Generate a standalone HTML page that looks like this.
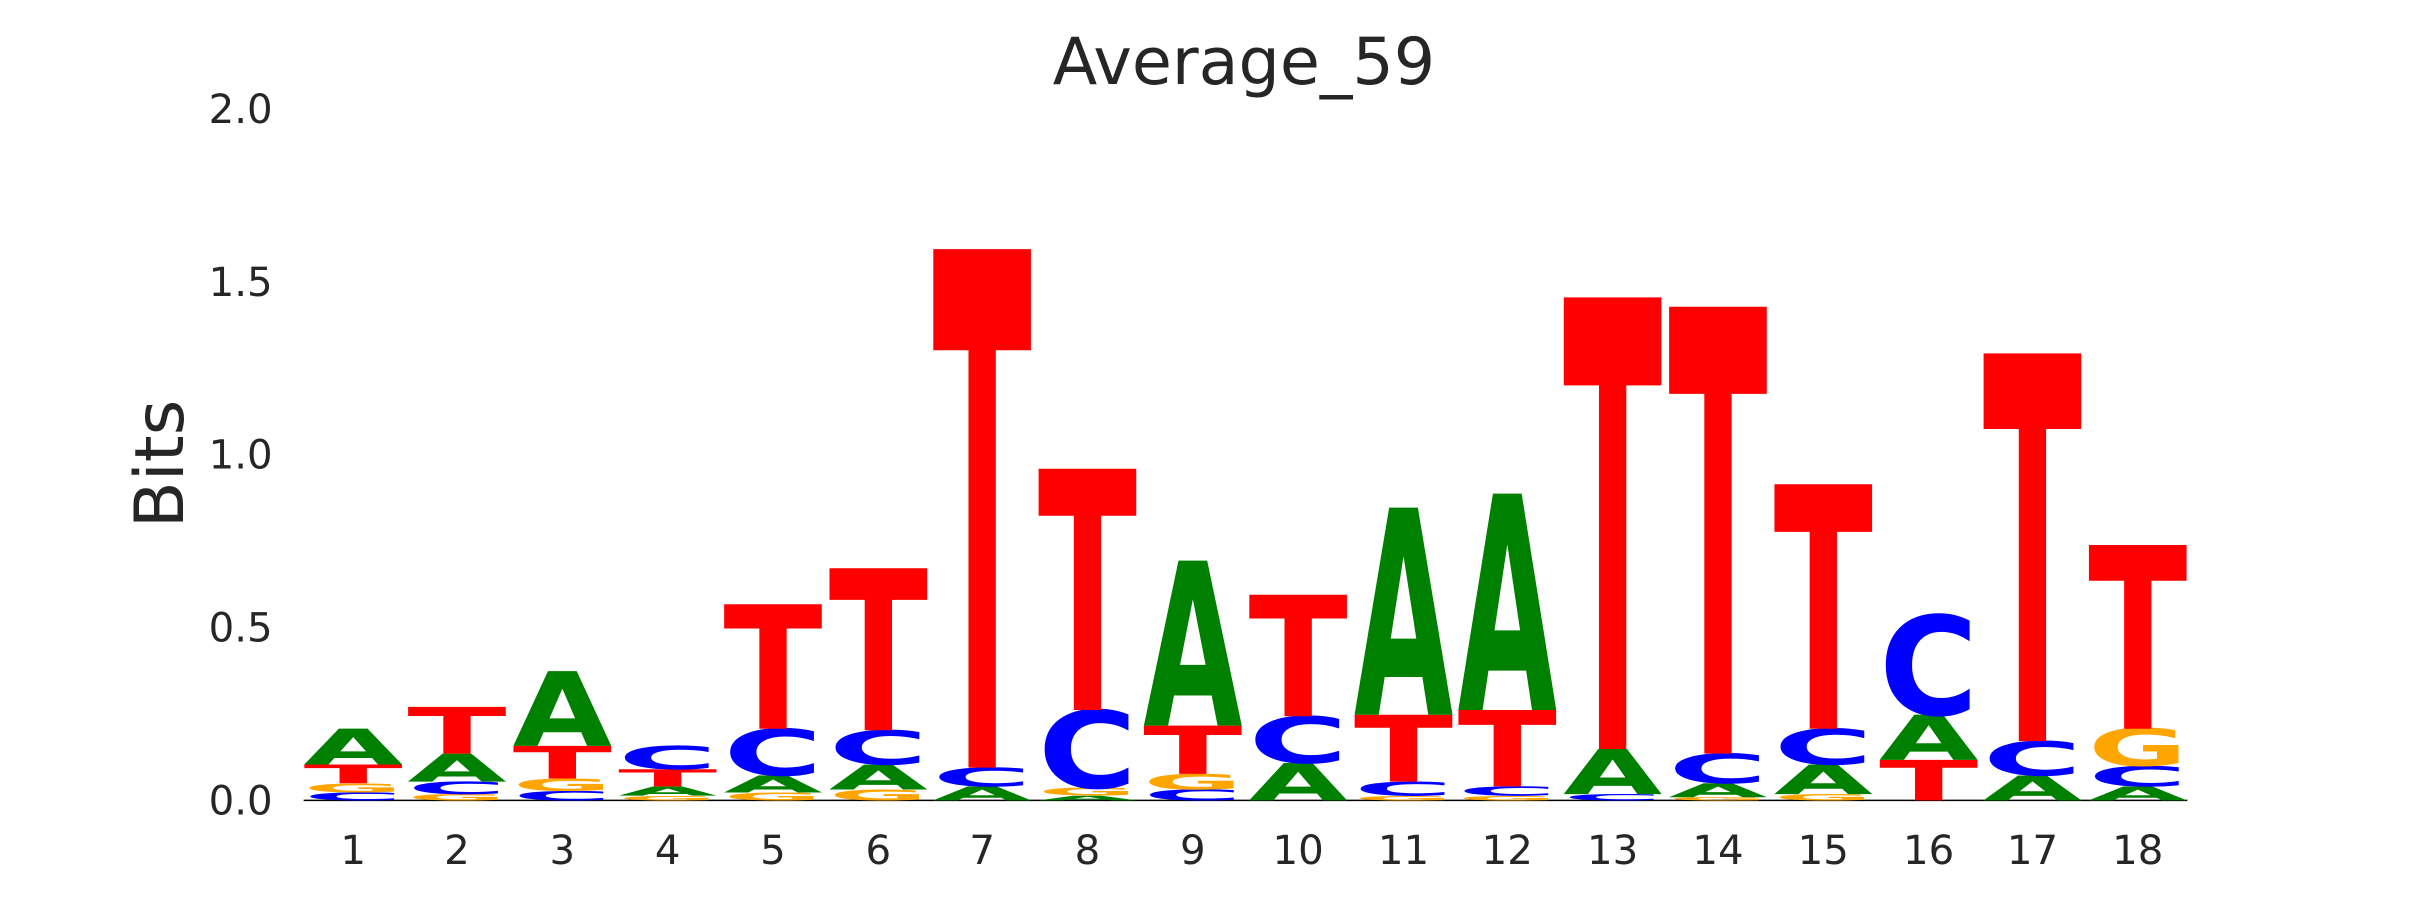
<!DOCTYPE html>
<html><head><meta charset="utf-8"><style>
html,body{margin:0;padding:0;background:#fff;}
svg{display:block;}
.L{font-family:"DejaVu Sans","Liberation Sans",sans-serif;font-weight:bold;font-size:100px;}
.A{fill:#008000}.C{fill:#0000ff}.G{fill:#ffa500}.T{fill:#ff0000}
.tk{font-family:"DejaVu Sans","Liberation Sans",sans-serif;font-size:26px;fill:#262626;}
</style></head><body>
<svg width="2430" height="900" viewBox="0 0 1560 578" preserveAspectRatio="none" xmlns="http://www.w3.org/2000/svg">
<rect width="1560" height="578" fill="#fff"/>
<g transform="scale(0.9945,1)">
<text x="803" y="54" text-anchor="middle" class="tk" style="font-size:42px">Average_59</text>
<text transform="translate(118,298) rotate(-90)" text-anchor="middle" class="tk" style="font-size:44px">Bits</text>
<g text-anchor="end">
<text class="tk" x="176" y="523">0.0</text>
<text class="tk" x="176" y="412">0.5</text>
<text class="tk" x="176" y="301">1.0</text>
<text class="tk" x="176" y="190">1.5</text>
<text class="tk" x="176" y="79">2.0</text>
</g>
<g text-anchor="middle">
<text class="tk" x="228" y="555">1</text><text class="tk" x="295" y="555">2</text><text class="tk" x="363" y="555">3</text><text class="tk" x="431" y="555">4</text><text class="tk" x="499" y="555">5</text><text class="tk" x="567" y="555">6</text><text class="tk" x="634" y="555">7</text><text class="tk" x="702" y="555">8</text><text class="tk" x="770" y="555">9</text><text class="tk" x="838" y="555">10</text><text class="tk" x="906" y="555">11</text><text class="tk" x="973" y="555">12</text><text class="tk" x="1041" y="555">13</text><text class="tk" x="1109" y="555">14</text><text class="tk" x="1177" y="555">15</text><text class="tk" x="1245" y="555">16</text><text class="tk" x="1312" y="555">17</text><text class="tk" x="1380" y="555">18</text>
</g>
<g transform="translate(0,-2)">
<line x1="196" y1="516" x2="1412" y2="516" stroke="#000" stroke-width="1"/>
<g transform="translate(196,516) scale(0.64,0.069)"><text class="L C" textLength="100" lengthAdjust="spacingAndGlyphs">C</text></g>
<g transform="translate(196,511) scale(0.64,0.082)"><text class="L G" textLength="100" lengthAdjust="spacingAndGlyphs">G</text></g>
<g transform="translate(196,505) scale(0.64,0.165)"><text class="L T" textLength="100" lengthAdjust="spacingAndGlyphs">T</text></g>
<g transform="translate(196,493) scale(0.64,0.316)"><text class="L A" textLength="100" lengthAdjust="spacingAndGlyphs">A</text></g>
<g transform="translate(263,516) scale(0.64,0.055)"><text class="L G" textLength="100" lengthAdjust="spacingAndGlyphs">G</text></g>
<g transform="translate(263,512) scale(0.64,0.110)"><text class="L C" textLength="100" lengthAdjust="spacingAndGlyphs">C</text></g>
<g transform="translate(263,504) scale(0.64,0.247)"><text class="L A" textLength="100" lengthAdjust="spacingAndGlyphs">A</text></g>
<g transform="translate(263,486) scale(0.64,0.412)"><text class="L T" textLength="100" lengthAdjust="spacingAndGlyphs">T</text></g>
<g transform="translate(331,516) scale(0.64,0.082)"><text class="L C" textLength="100" lengthAdjust="spacingAndGlyphs">C</text></g>
<g transform="translate(331,510) scale(0.64,0.110)"><text class="L G" textLength="100" lengthAdjust="spacingAndGlyphs">G</text></g>
<g transform="translate(331,502) scale(0.64,0.288)"><text class="L T" textLength="100" lengthAdjust="spacingAndGlyphs">T</text></g>
<g transform="translate(331,481) scale(0.64,0.658)"><text class="L A" textLength="100" lengthAdjust="spacingAndGlyphs">A</text></g>
<g transform="translate(399,516) scale(0.64,0.041)"><text class="L G" textLength="100" lengthAdjust="spacingAndGlyphs">G</text></g>
<g transform="translate(399,513) scale(0.64,0.082)"><text class="L A" textLength="100" lengthAdjust="spacingAndGlyphs">A</text></g>
<g transform="translate(399,507) scale(0.64,0.151)"><text class="L T" textLength="100" lengthAdjust="spacingAndGlyphs">T</text></g>
<g transform="translate(399,496) scale(0.64,0.206)"><text class="L C" textLength="100" lengthAdjust="spacingAndGlyphs">C</text></g>
<g transform="translate(467,516) scale(0.64,0.069)"><text class="L G" textLength="100" lengthAdjust="spacingAndGlyphs">G</text></g>
<g transform="translate(467,511) scale(0.64,0.151)"><text class="L A" textLength="100" lengthAdjust="spacingAndGlyphs">A</text></g>
<g transform="translate(467,500) scale(0.64,0.412)"><text class="L C" textLength="100" lengthAdjust="spacingAndGlyphs">C</text></g>
<g transform="translate(467,470) scale(0.64,1.097)"><text class="L T" textLength="100" lengthAdjust="spacingAndGlyphs">T</text></g>
<g transform="translate(535,516) scale(0.64,0.096)"><text class="L G" textLength="100" lengthAdjust="spacingAndGlyphs">G</text></g>
<g transform="translate(535,509) scale(0.64,0.219)"><text class="L A" textLength="100" lengthAdjust="spacingAndGlyphs">A</text></g>
<g transform="translate(535,493) scale(0.64,0.302)"><text class="L C" textLength="100" lengthAdjust="spacingAndGlyphs">C</text></g>
<g transform="translate(535,471) scale(0.64,1.427)"><text class="L T" textLength="100" lengthAdjust="spacingAndGlyphs">T</text></g>
<g transform="translate(602,516) scale(0.64,0.123)"><text class="L A" textLength="100" lengthAdjust="spacingAndGlyphs">A</text></g>
<g transform="translate(602,507) scale(0.64,0.165)"><text class="L C" textLength="100" lengthAdjust="spacingAndGlyphs">C</text></g>
<g transform="translate(602,495) scale(0.64,4.568)"><text class="L T" textLength="100" lengthAdjust="spacingAndGlyphs">T</text></g>
<g transform="translate(670,516) scale(0.64,0.041)"><text class="L A" textLength="100" lengthAdjust="spacingAndGlyphs">A</text></g>
<g transform="translate(670,513) scale(0.64,0.069)"><text class="L G" textLength="100" lengthAdjust="spacingAndGlyphs">G</text></g>
<g transform="translate(670,508) scale(0.64,0.686)"><text class="L C" textLength="100" lengthAdjust="spacingAndGlyphs">C</text></g>
<g transform="translate(670,458) scale(0.64,2.126)"><text class="L T" textLength="100" lengthAdjust="spacingAndGlyphs">T</text></g>
<g transform="translate(738,516) scale(0.64,0.096)"><text class="L C" textLength="100" lengthAdjust="spacingAndGlyphs">C</text></g>
<g transform="translate(738,509) scale(0.64,0.137)"><text class="L G" textLength="100" lengthAdjust="spacingAndGlyphs">G</text></g>
<g transform="translate(738,499) scale(0.64,0.425)"><text class="L T" textLength="100" lengthAdjust="spacingAndGlyphs">T</text></g>
<g transform="translate(738,468) scale(0.64,1.454)"><text class="L A" textLength="100" lengthAdjust="spacingAndGlyphs">A</text></g>
<g transform="translate(806,516) scale(0.64,0.329)"><text class="L A" textLength="100" lengthAdjust="spacingAndGlyphs">A</text></g>
<g transform="translate(806,492) scale(0.64,0.412)"><text class="L C" textLength="100" lengthAdjust="spacingAndGlyphs">C</text></g>
<g transform="translate(806,462) scale(0.64,1.070)"><text class="L T" textLength="100" lengthAdjust="spacingAndGlyphs">T</text></g>
<g transform="translate(874,516) scale(0.64,0.041)"><text class="L G" textLength="100" lengthAdjust="spacingAndGlyphs">G</text></g>
<g transform="translate(874,513) scale(0.64,0.123)"><text class="L C" textLength="100" lengthAdjust="spacingAndGlyphs">C</text></g>
<g transform="translate(874,504) scale(0.64,0.590)"><text class="L T" textLength="100" lengthAdjust="spacingAndGlyphs">T</text></g>
<g transform="translate(874,461) scale(0.64,1.824)"><text class="L A" textLength="100" lengthAdjust="spacingAndGlyphs">A</text></g>
<g transform="translate(941,516) scale(0.64,0.041)"><text class="L G" textLength="100" lengthAdjust="spacingAndGlyphs">G</text></g>
<g transform="translate(941,513) scale(0.64,0.082)"><text class="L C" textLength="100" lengthAdjust="spacingAndGlyphs">C</text></g>
<g transform="translate(941,507) scale(0.64,0.672)"><text class="L T" textLength="100" lengthAdjust="spacingAndGlyphs">T</text></g>
<g transform="translate(941,458) scale(0.64,1.907)"><text class="L A" textLength="100" lengthAdjust="spacingAndGlyphs">A</text></g>
<g transform="translate(1009,516) scale(0.64,0.055)"><text class="L C" textLength="100" lengthAdjust="spacingAndGlyphs">C</text></g>
<g transform="translate(1009,512) scale(0.64,0.398)"><text class="L A" textLength="100" lengthAdjust="spacingAndGlyphs">A</text></g>
<g transform="translate(1009,483) scale(0.64,3.978)"><text class="L T" textLength="100" lengthAdjust="spacingAndGlyphs">T</text></g>
<g transform="translate(1077,516) scale(0.64,0.027)"><text class="L G" textLength="100" lengthAdjust="spacingAndGlyphs">G</text></g>
<g transform="translate(1077,514) scale(0.64,0.123)"><text class="L A" textLength="100" lengthAdjust="spacingAndGlyphs">A</text></g>
<g transform="translate(1077,505) scale(0.64,0.261)"><text class="L C" textLength="100" lengthAdjust="spacingAndGlyphs">C</text></g>
<g transform="translate(1077,486) scale(0.64,3.937)"><text class="L T" textLength="100" lengthAdjust="spacingAndGlyphs">T</text></g>
<g transform="translate(1145,516) scale(0.64,0.055)"><text class="L G" textLength="100" lengthAdjust="spacingAndGlyphs">G</text></g>
<g transform="translate(1145,512) scale(0.64,0.261)"><text class="L A" textLength="100" lengthAdjust="spacingAndGlyphs">A</text></g>
<g transform="translate(1145,493) scale(0.64,0.316)"><text class="L C" textLength="100" lengthAdjust="spacingAndGlyphs">C</text></g>
<g transform="translate(1145,470) scale(0.64,2.154)"><text class="L T" textLength="100" lengthAdjust="spacingAndGlyphs">T</text></g>
<g transform="translate(1213,516) scale(0.64,0.357)"><text class="L T" textLength="100" lengthAdjust="spacingAndGlyphs">T</text></g>
<g transform="translate(1213,490) scale(0.64,0.398)"><text class="L A" textLength="100" lengthAdjust="spacingAndGlyphs">A</text></g>
<g transform="translate(1213,461) scale(0.64,0.878)"><text class="L C" textLength="100" lengthAdjust="spacingAndGlyphs">C</text></g>
<g transform="translate(1280,516) scale(0.64,0.219)"><text class="L A" textLength="100" lengthAdjust="spacingAndGlyphs">A</text></g>
<g transform="translate(1280,500) scale(0.64,0.302)"><text class="L C" textLength="100" lengthAdjust="spacingAndGlyphs">C</text></g>
<g transform="translate(1280,478) scale(0.64,3.416)"><text class="L T" textLength="100" lengthAdjust="spacingAndGlyphs">T</text></g>
<g transform="translate(1348,516) scale(0.64,0.123)"><text class="L A" textLength="100" lengthAdjust="spacingAndGlyphs">A</text></g>
<g transform="translate(1348,507) scale(0.64,0.178)"><text class="L C" textLength="100" lengthAdjust="spacingAndGlyphs">C</text></g>
<g transform="translate(1348,494) scale(0.64,0.329)"><text class="L G" textLength="100" lengthAdjust="spacingAndGlyphs">G</text></g>
<g transform="translate(1348,470) scale(0.64,1.619)"><text class="L T" textLength="100" lengthAdjust="spacingAndGlyphs">T</text></g>
</g>
</g>
</svg>
</body></html>
